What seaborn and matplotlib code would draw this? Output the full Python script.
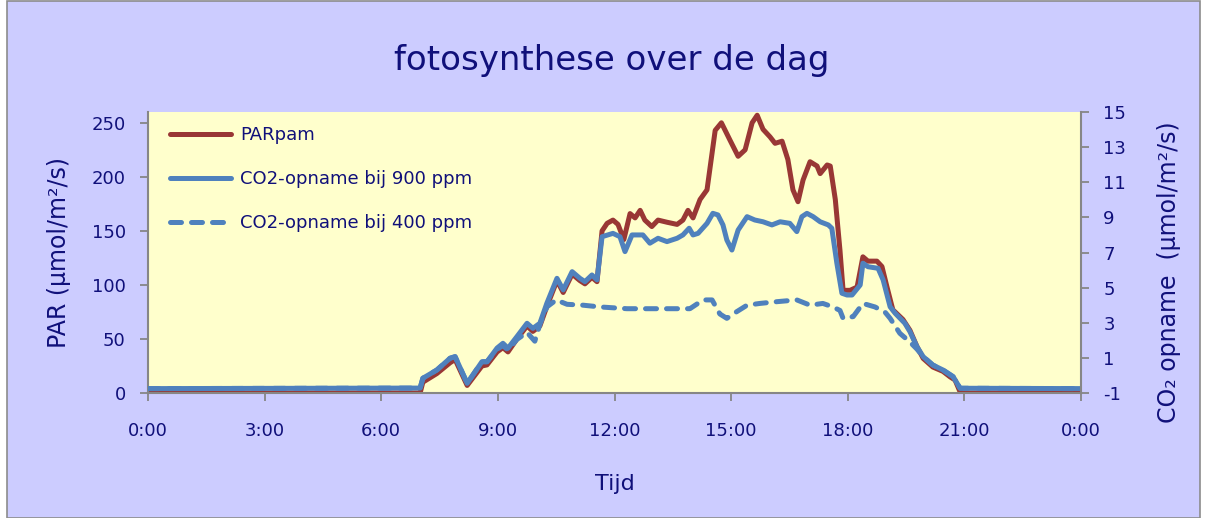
import matplotlib
matplotlib.use("Agg")
import matplotlib.pyplot as plt
import matplotlib.patches as mpatches
from matplotlib.ticker import FuncFormatter, FixedLocator
import seaborn as sns
import pandas as pd

# ---- data (time in hours of the day) ----
par_t = [0.0, 7.00, 7.07, 7.43, 7.77, 7.90, 8.21, 8.59, 8.72, 8.98, 9.13, 9.26, 9.49, 9.75, 9.90,
         10.08, 10.26, 10.52, 10.68, 10.91, 11.11, 11.24, 11.42, 11.55, 11.68, 11.81, 11.96, 12.09,
         12.24, 12.40, 12.53, 12.66, 12.78, 12.96, 13.12, 13.35, 13.61, 13.76, 13.89, 14.02, 14.20,
         14.38, 14.59, 14.75, 14.97, 15.18, 15.36, 15.54, 15.67, 15.82, 16.00, 16.13, 16.31, 16.46,
         16.59, 16.72, 16.85, 17.03, 17.21, 17.29, 17.47, 17.55, 17.68, 17.80, 17.88, 18.06, 18.24,
         18.39, 18.52, 18.75, 18.88, 19.01, 19.16, 19.42, 19.60, 19.78, 19.94, 20.19, 20.45, 20.63,
         20.76, 20.89, 20.94, 24.0]
par = [0, 0, 10, 18, 28, 31, 7, 25, 26, 38, 42, 38, 50, 62, 57,
       62, 80, 104, 93, 110, 104, 101, 107, 103, 150, 157, 160, 156,
       142, 166, 162, 169, 160, 154, 160, 158, 156, 160, 169, 162, 179,
       188, 243, 250, 234, 219, 225, 250, 257, 244, 237, 231, 233, 216,
       188, 177, 197, 214, 210, 203, 211, 210, 179, 132, 95, 95, 98,
       126, 122, 122, 117, 98, 77, 68, 58, 43, 32, 24, 20, 15,
       12, 1, 0, 0]

co2_900_t = [0.0, 7.00, 7.07, 7.43, 7.77, 7.90, 8.21, 8.59, 8.72, 8.98, 9.13, 9.26, 9.49, 9.75, 9.90,
             10.08, 10.26, 10.52, 10.68, 10.91, 11.11, 11.24, 11.42, 11.55, 11.68, 11.96, 12.14, 12.27,
             12.45, 12.73, 12.91, 13.12, 13.35, 13.61, 13.76, 13.92, 14.02, 14.15, 14.38, 14.53, 14.66,
             14.79, 14.89, 15.02, 15.18, 15.41, 15.61, 15.82, 16.05, 16.26, 16.51, 16.69, 16.82, 16.95,
             17.11, 17.29, 17.50, 17.59, 17.72, 17.85, 17.98, 18.11, 18.32, 18.39, 18.52, 18.78, 18.91,
             19.09, 19.22, 19.47, 19.60, 19.78, 19.94, 20.19, 20.45, 20.71, 20.89, 24.0]
co2_900 = [-0.75, -0.72, -0.16, 0.31, 0.98, 1.07, -0.45, 0.78, 0.78, 1.56, 1.83, 1.55, 2.21, 2.97, 2.68,
           2.97, 4.11, 5.53, 4.87, 5.91, 5.53, 5.34, 5.72, 5.44, 7.90, 8.09, 7.90, 7.05,
           8.00, 8.00, 7.53, 7.81, 7.62, 7.81, 8.00, 8.38, 8.00, 8.09, 8.66, 9.23, 9.14,
           8.57, 7.71, 7.14, 8.28, 9.04, 8.85, 8.75, 8.57, 8.75, 8.66, 8.19, 9.04, 9.23,
           9.04, 8.75, 8.57, 8.38, 6.39, 4.68, 4.58, 4.58, 5.15, 6.39, 6.19, 6.10, 5.44,
           3.91, 3.54, 2.97, 2.49, 1.64, 1.07, 0.59, 0.31, -0.07, -0.73, -0.75]

co2_400_t = [0.0, 7.00, 7.07, 7.43, 7.77, 7.90, 8.21, 8.59, 8.72, 8.98, 9.13, 9.26, 9.49, 9.75, 9.95,
             10.08, 10.26, 10.50, 10.78, 11.19, 11.63, 12.32, 12.91, 13.43, 13.94, 14.28, 14.51, 14.71,
             14.89, 15.05, 15.41, 15.74, 16.18, 16.69, 17.03, 17.36, 17.62, 17.80, 17.88, 18.14, 18.39,
             18.70, 18.96, 19.09, 19.34, 19.60, 19.78, 19.94, 20.19, 20.45, 20.71, 20.89, 24.0]
co2_400 = [-0.75, -0.72, -0.16, 0.31, 0.98, 1.07, -0.45, 0.78, 0.78, 1.50, 1.70, 1.45, 2.05, 2.45, 1.95,
           2.90, 3.90, 4.30, 4.05, 4.00, 3.90, 3.80, 3.80, 3.80, 3.80, 4.30, 4.30, 3.50,
           3.25, 3.50, 4.00, 4.10, 4.20, 4.30, 4.00, 4.10, 3.90, 3.70, 3.25, 3.35, 4.10,
           3.90, 3.60, 3.25, 2.40, 1.90, 1.50, 1.07, 0.59, 0.31, -0.07, -0.73, -0.75]

labels = ["PARpam", "CO2-opname bij 900 ppm", "CO2-opname bij 400 ppm"]
x_ticks = [0, 3, 6, 9, 12, 15, 18, 21, 24]
left_ticks = [0, 50, 100, 150, 200, 250]
right_ticks = [-1, 1, 3, 5, 7, 9, 11, 13, 15]

NAVY = "#10107A"
RED = "#993735"
BLUE = "#4F81BD"
GRID = "#868686"

sns.set_theme(style="white")
plt.rcParams["font.family"] = ["DejaVu Sans"]
plt.rcParams["axes.unicode_minus"] = False

fig = plt.figure(figsize=(12.07, 5.18), dpi=100)
fig.patch.set_facecolor("white")
fig.patches.append(mpatches.Rectangle((7 / 1207, 0.0), 1193 / 1207, 0.999, transform=fig.transFigure,
                                      facecolor="#CCCCFF", edgecolor="#8C8C8C", lw=1.2, zorder=-10))

ax = fig.add_axes([148 / 1207, 125 / 518, 933 / 1207, 281 / 518])
ax.set_facecolor("#FFFFCC")
ax2 = ax.twinx()
ax2.patch.set_visible(False)

df_par = pd.DataFrame({"t": par_t, "v": par})
df_900 = pd.DataFrame({"t": co2_900_t, "v": co2_900})
df_400 = pd.DataFrame({"t": co2_400_t, "v": co2_400})

sns.lineplot(data=df_par, x="t", y="v", ax=ax, color=RED, lw=3.6, estimator=None,
             label=labels[0], legend=False)
sns.lineplot(data=df_900, x="t", y="v", ax=ax2, color=BLUE, lw=3.6, estimator=None,
             label=labels[1], legend=False)
sns.lineplot(data=df_400, x="t", y="v", ax=ax2, color=BLUE, lw=3.6, estimator=None,
             label=labels[2], legend=False)
dl = ax2.lines[-1]
dl.set_dashes((2.2, 2.0))
dl.set_dash_capstyle("round")
for l in ax.lines + ax2.lines:
    l.set_solid_capstyle("round")
    l.set_solid_joinstyle("round")

ax.set_xlim(0, 24)
ax.set_ylim(0, 260)
ax2.set_ylim(-1, 15)
ax.xaxis.set_major_locator(FixedLocator(x_ticks))
ax.xaxis.set_major_formatter(FuncFormatter(lambda v, p: f"{int(round(v)) % 24}:00"))
ax.yaxis.set_major_locator(FixedLocator(left_ticks))
ax2.yaxis.set_major_locator(FixedLocator(right_ticks))

for a in (ax, ax2):
    for s in a.spines.values():
        s.set_visible(False)
    a.grid(False)
for side in ("left", "bottom"):
    ax.spines[side].set_visible(True)
    ax.spines[side].set_color(GRID)
    ax.spines[side].set_linewidth(1.5)
ax2.spines["right"].set_visible(True)
ax2.spines["right"].set_color(GRID)
ax2.spines["right"].set_linewidth(1.5)

ax.tick_params(axis="y", left=True, length=6, width=1.3, color=GRID, direction="out",
               labelsize=13, labelcolor=NAVY, pad=10)
ax.tick_params(axis="x", bottom=True, length=6, width=1.3, color=GRID, direction="out",
               labelsize=13, labelcolor=NAVY, pad=15)
ax2.tick_params(axis="y", right=True, length=6, width=1.3, color=GRID, direction="out",
                labelsize=13, labelcolor=NAVY, pad=10)

ax.set_xlabel("Tijd", fontsize=16, color=NAVY, labelpad=24)
ax.set_ylabel("PAR (µmol/m²/s)", fontsize=17, color=NAVY, labelpad=15)
ax2.set_ylabel("CO₂ opname  (µmol/m²/s)", fontsize=17, color=NAVY, labelpad=22)
ax2.yaxis.label.set_y(0.43)

fig.text(0.507, 0.884, "fotosynthese over de dag", fontsize=24.5, color=NAVY,
         ha="center", va="center")

handles = ax.lines[:1] + ax2.lines[:2]
leg = ax2.legend(handles, labels, loc="upper left", bbox_to_anchor=(0.01, 0.995), frameon=False,
                 fontsize=13, handlelength=3.4, handletextpad=0.5, labelspacing=1.45,
                 borderaxespad=0.3)
for t in leg.get_texts():
    t.set_color(NAVY)

fig.savefig("out.png", dpi=100, facecolor=fig.get_facecolor())
